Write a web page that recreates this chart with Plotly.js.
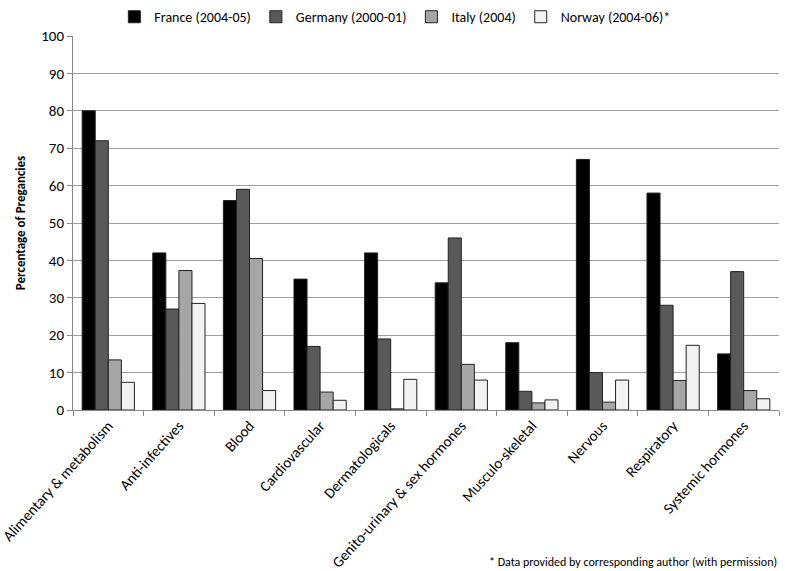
<!DOCTYPE html>
<html>
<head>
<meta charset="utf-8">
<script src="https://cdn.plot.ly/plotly-3.0.1.min.js"></script>
<style>
  html, body { margin: 0; padding: 0; background: #fff; }
  #chart { width: 785px; height: 571px; }
</style>
</head>
<body>
<div id="chart"></div>
<script>
// drug classes used in pregnancy, by country
const categories = [
  'Alimentary & metabolism', 'Anti-infectives', 'Blood', 'Cardiovascular',
  'Dermatologicals', 'Genito-urinary & sex hormones', 'Musculo-skeletal',
  'Nervous', 'Respiratory', 'Systemic hormones'
];
const france  = [80, 42, 56, 35, 42, 34, 18, 67, 58, 15];
const germany = [72, 27, 59, 17, 19, 46, 5, 10, 28, 37];
const italy   = [13.4, 37.3, 40.5, 4.8, 0.3, 12.2, 1.9, 2.1, 7.9, 5.2];
const norway  = [7.4, 28.5, 5.2, 2.6, 8.2, 8, 2.7, 8, 17.3, 3];

const FONT = 'Carlito, "Liberation Sans Narrow", "Liberation Sans", Arial, sans-serif';

const series = [
  { name: 'France (2004-05)',   y: france,  color: '#000000' },
  { name: 'Germany (2000-01)',  y: germany, color: '#595959' },
  { name: 'Italy (2004)',       y: italy,   color: '#a6a6a6' },
  { name: 'Norway (2004-06)*',  y: norway,  color: '#f2f2f2' },
];

const traces = series.map(s => ({
  type: 'bar',
  name: s.name,
  x: categories,
  y: s.y,
  marker: { color: s.color, line: { color: '#222', width: 1 } },
}));

const layout = {
  width: 785, height: 571,
  paper_bgcolor: '#fff', plot_bgcolor: '#fff',
  font: { family: FONT, size: 13, color: '#000' },
  margin: { l: 73, r: 6, t: 36, b: 161 },
  barmode: 'group',
  bargap: 0.26,
  bargroupgap: 0,
  showlegend: true,
  legend: {
    orientation: 'h', x: 0.503, xanchor: 'center', xref: 'container',
    y: 0.998, yanchor: 'top', yref: 'container',
    font: { family: FONT, size: 14 },
    itemwidth: 30,
    tracegroupgap: 0,
  },
  xaxis: {
    tickangle: -48,
    tickson: 'boundaries',
    ticks: 'outside', ticklen: 5, tickcolor: '#888',
    showline: true, linecolor: '#888', linewidth: 1,
    showgrid: false,
    tickfont: { family: FONT, size: 15 },
    automargin: false,
  },
  yaxis: {
    range: [0, 100],
    dtick: 10,
    showgrid: true, gridcolor: '#a0a0a0', gridwidth: 1,
    showline: true, linecolor: '#888',
    ticks: 'outside', ticklen: 5, tickcolor: '#888',
    zeroline: false,
    tickfont: { family: FONT, size: 15 },
    title: { text: '<b>Percentage of Pregancies</b>', font: { family: FONT, size: 13 }, standoff: 12 },
    automargin: false,
  },
  annotations: [{
    text: '* Data provided by corresponding author (with permission)',
    xref: 'paper', yref: 'paper', x: 1, y: -0.406,
    xanchor: 'right', yanchor: 'middle', showarrow: false,
    font: { family: FONT, size: 12 },
  }],
};

Plotly.newPlot('chart', traces, layout, { displayModeBar: false, responsive: false });
</script>
</body>
</html>
